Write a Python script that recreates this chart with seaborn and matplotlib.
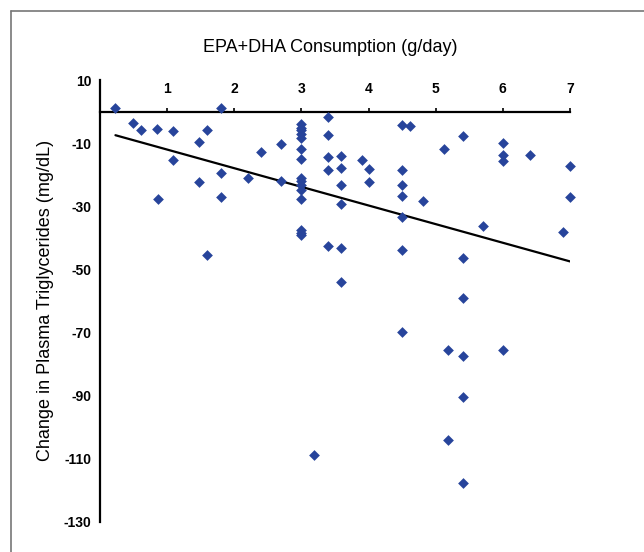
import pandas as pd
import matplotlib.pyplot as plt
import seaborn as sns
from matplotlib.lines import Line2D

# EPA+DHA dose (g/day) and change in plasma triglycerides (mg/dL)
epa_dha = [
    0.23, 1.80, 0.49, 0.61, 0.85, 1.09, 1.59, 1.48, 1.09, 2.40, 2.69,
    1.48, 1.80, 2.20, 2.69, 1.80, 0.86, 1.59,
    3.0, 3.0, 3.0, 3.0, 3.0, 3.0, 3.0, 3.0, 3.0, 3.0, 3.0, 3.0, 3.0, 3.0, 3.0,
    3.19,
    3.40, 3.40, 3.40, 3.40, 3.40,
    3.59, 3.59, 3.59, 3.59, 3.59, 3.59,
    3.90, 4.00, 4.00,
    4.50, 4.50, 4.50, 4.50, 4.50, 4.50, 4.50,
    4.62, 4.81, 5.12, 5.19, 5.19,
    5.41, 5.41, 5.41, 5.41, 5.41, 5.41,
    5.71, 6.0, 6.0, 6.0, 6.0, 6.40, 6.90, 7.0, 7.0,
]
tg_change = [
    1.1, 1.1, -3.7, -5.8, -5.5, -6.3, -5.7, -9.7, -15.5, -12.8, -10.2,
    -22.3, -19.5, -21.1, -21.9, -27.1, -27.7, -45.6,
    -4.0, -5.1, -6.0, -7.1, -8.4, -11.8, -15.1, -21.1, -21.9, -23.2, -24.8, -27.8, -37.5, -38.5, -39.1,
    -108.9,
    -1.8, -7.3, -14.4, -18.6, -42.5,
    -14.1, -17.9, -23.2, -29.3, -43.3, -54.1,
    -15.3, -18.1, -22.4,
    -4.3, -18.5, -23.2, -26.9, -33.5, -43.8, -69.9,
    -4.7, -28.4, -11.8, -75.5, -104.1,
    -7.8, -46.5, -59.1, -77.4, -90.5, -117.8,
    -36.2, -10.1, -13.7, -15.8, -75.5, -13.7, -38.1, -17.1, -27.1,
]

# fitted trend line shown in the figure
trend_x = [0.23, 7.0]
trend_y = [-7.5, -47.5]

x_ticks = [1, 2, 3, 4, 5, 6, 7]
y_ticks = [10, -10, -30, -50, -70, -90, -110, -130]

sns.set_style("white")
plt.rcParams['font.family'] = ['Liberation Sans', 'DejaVu Sans']
plt.rcParams['axes.unicode_minus'] = False

fig = plt.figure(figsize=(6.44, 5.52), dpi=100)
ax = fig.add_axes([100 / 644, 1 - 521.7 / 552, 470 / 644, 441.7 / 552])

points = pd.DataFrame({"dose": epa_dha, "change": tg_change})
sns.scatterplot(data=points, x="dose", y="change", marker="D", s=30, color="#27449b",
                linewidth=0, ax=ax, clip_on=False, zorder=3)
sns.lineplot(x=trend_x, y=trend_y, color="black", linewidth=1.6, ax=ax, zorder=2)

ax.set_xlim(0, 7)
ax.set_ylim(-130, 10)
ax.set_xticks(x_ticks)
ax.set_yticks(y_ticks)

# x axis sits on the zero line, with its labels above
ax.spines['right'].set_visible(False)
ax.spines['bottom'].set_visible(False)
ax.spines['top'].set_position(('data', 0))
for side in ['top', 'left']:
    ax.spines[side].set_color('black')
    ax.spines[side].set_linewidth(1.6)
ax.xaxis.set_ticks_position('top')
ax.tick_params(axis='x', direction='out', length=3, width=1.2, pad=8, labelsize=10, colors='black')
ax.tick_params(axis='y', direction='out', length=4, width=1.2, pad=2, labelsize=10, colors='black')
for lbl in ax.get_xticklabels() + ax.get_yticklabels():
    lbl.set_fontweight('bold')

ax.set_xlabel("")
ax.set_ylabel("Change in Plasma Triglycerides (mg/dL)", fontsize=13, labelpad=7, color='black')
fig.text(330 / 644, 1 - 48 / 552, "EPA+DHA Consumption (g/day)", ha='center', va='center',
         fontsize=13, color='black')

# grey frame around the figure (top and left edges visible)
fig.add_artist(Line2D([10.5 / 644, 10.5 / 644], [0, 1 - 10.5 / 552], transform=fig.transFigure,
                      color='#777777', linewidth=1.2))
fig.add_artist(Line2D([10.5 / 644, 1], [1 - 10.5 / 552, 1 - 10.5 / 552], transform=fig.transFigure,
                      color='#777777', linewidth=1.2))

fig.savefig("out.png", dpi=100)
